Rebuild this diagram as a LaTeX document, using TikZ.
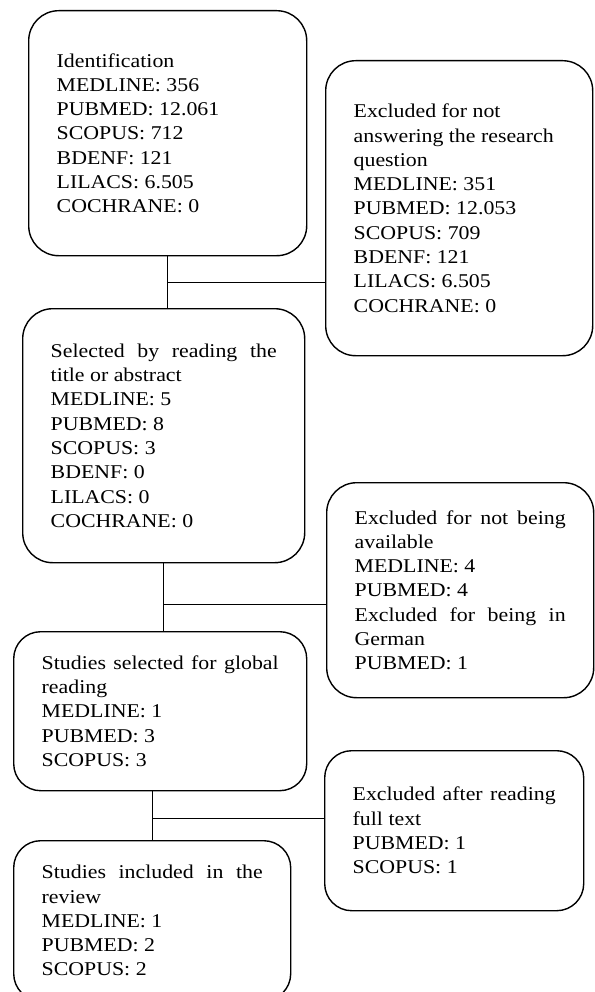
\documentclass[tikz,border=0pt]{standalone}
\usepackage{fontspec}
\setmainfont{Liberation Serif}[FakeStretch=1.12]
\usepackage{tikz}
\usetikzlibrary{calc}
% 两端对齐的一行
\newcommand{\jline}[1]{{\spaceskip=0pt\xspaceskip=0pt\makebox[\hsize][s]{#1}}}

\begin{document}
\begin{tikzpicture}[x=1pt, y=-1pt,
    caixa/.style={draw, line width=1.4pt, rounded corners=30pt, anchor=north west,
      inner xsep=28pt, inner ysep=0pt, align=flush left,
      font=\fontsize{19.5}{24.3}\selectfont},
    liga/.style={line width=0.8pt}]
			\useasboundingbox (0,0) rectangle (594,992);
			% 左列
			\node[caixa, text width=222pt, minimum height=245pt] (ident) at (28,10)
			  {Identification\\ MEDLINE: 356\\ PUBMED: 12.061\\ SCOPUS: 712\\ BDENF: 121\\ LILACS: 6.505\\ COCHRANE: 0};
			\node[caixa, text width=226pt, minimum height=254pt] (selec) at (22,308)
			  {\jline{Selected by reading the}\\ title or abstract\\ MEDLINE: 5\\ PUBMED: 8\\ SCOPUS: 3\\ BDENF: 0\\ LILACS: 0\\ COCHRANE: 0};
			\node[caixa, rounded corners=27pt, text width=237pt, minimum height=159pt] (global) at (13,631)
			  {\jline{Studies selected for global}\\ reading\\ MEDLINE: 1\\ PUBMED: 3\\ SCOPUS: 3};
			\node[caixa, rounded corners=27pt, text width=221pt, minimum height=160pt] (incl) at (13,840)
			  {\jline{Studies included in the}\\ review\\ MEDLINE: 1\\ PUBMED: 2\\ SCOPUS: 2};
			% 右列
			\node[caixa, text width=211pt, minimum height=295pt] (excl1) at (325,60)
			  {Excluded for not\\ answering the research\\ question\\ MEDLINE: 351\\ PUBMED: 12.053\\ SCOPUS: 709\\ BDENF: 121\\ LILACS: 6.505\\ COCHRANE: 0};
			\node[caixa, text width=211pt, minimum height=215pt] (excl2) at (326,482)
			  {\jline{Excluded for not being}\\ available\\ MEDLINE: 4\\ PUBMED: 4\\ \jline{Excluded for being in}\\ German\\ PUBMED: 1};
			\node[caixa, rounded corners=27pt, text width=203pt, minimum height=160pt] (excl3) at (324,750)
			  {\jline{Excluded after reading}\\ full text\\ PUBMED: 1\\ SCOPUS: 1};
			% 连线
			\draw[liga] (ident.south) -- (ident.south |- selec.north);
			\coordinate (j1) at ($(ident.south)!0.5!(ident.south |- selec.north)$);
			\draw[liga] (j1) -- (j1 -| excl1.west);
			\draw[liga] (selec.south) -- (selec.south |- global.north);
			\coordinate (j2) at ($(selec.south)!0.6!(selec.south |- global.north)$);
			\draw[liga] (j2) -- (j2 -| excl2.west);
			\draw[liga] (incl.north |- global.south) -- (incl.north);
			\coordinate (j3) at ($(incl.north |- global.south)!0.56!(incl.north)$);
			\draw[liga] (j3) -- (j3 -| excl3.west);
		\end{tikzpicture}
\end{document}
